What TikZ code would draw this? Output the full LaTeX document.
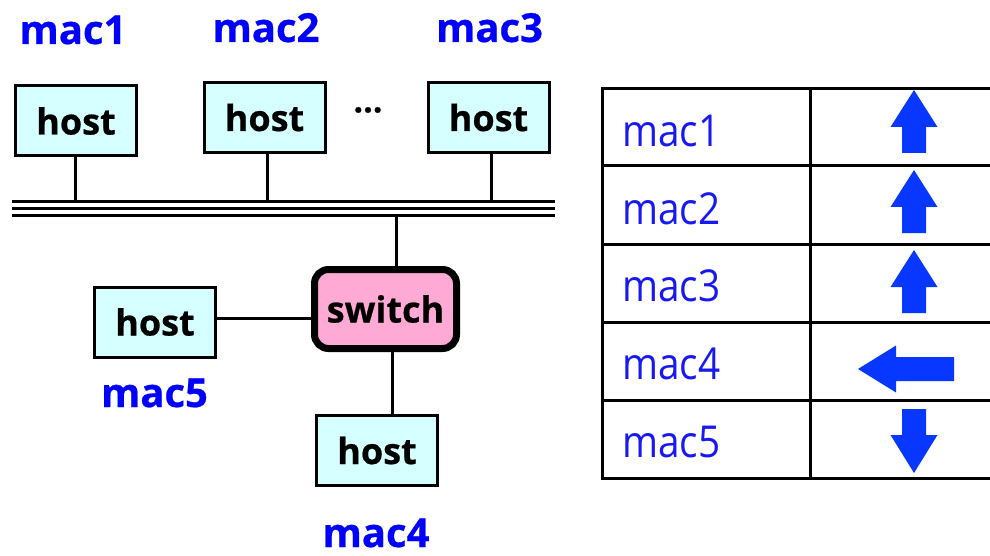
\documentclass[tikz,border=0pt]{standalone}
\usepackage{fontspec}
\setmainfont{Open Sans}[BoldFeatures={FakeBold=0.6}]
\newfontfamily\tblfont{Open Sans}[FakeStretch=0.88]
\definecolor{hostfill}{RGB}{214,255,255}
\definecolor{switchfill}{RGB}{255,170,212}
\definecolor{labelblue}{RGB}{0,0,255}
\definecolor{tblblue}{RGB}{24,24,240}
\definecolor{arrowblue}{RGB}{8,56,255}
\tikzset{
  hostbox/.style={draw=black, line width=3pt, fill=hostfill,
    minimum width=121pt, minimum height=70pt, inner sep=0pt,
    font=\fontsize{36}{40}\selectfont\bfseries},
  switchbox/.style={draw=black, line width=7pt, fill=switchfill,
    rounded corners=14pt, minimum width=142pt, minimum height=79pt,
    inner sep=0pt, font=\fontsize{36}{40}\selectfont\bfseries},
  maclabel/.style={anchor=base, text=labelblue, inner sep=0pt,
    font=\fontsize{40}{46}\selectfont\bfseries},
  tbltext/.style={anchor=base west, text=tblblue, inner sep=0pt,
    font=\fontsize{44}{50}\selectfont\tblfont},
  wire/.style={line width=3pt},
  grid/.style={line width=3pt},
  arr/.style={fill=arrowblue}
}
\begin{document}
\begin{tikzpicture}[x=1pt, y=-1pt]
\useasboundingbox (0,0) rectangle (990,556);
\clip (0,0) rectangle (990,556);

% hosts on the shared segment
\node[hostbox] (h1) at (76,121) {host};
\node[hostbox] (h2) at (264.5,117.5) {host};
\node[hostbox] (h3) at (488.5,117.5) {host};
\node[inner sep=0pt, font=\fontsize{34}{36}\selectfont\bfseries] (dots) at (368,110) {...};

\node[maclabel] (m1) at (73,44) {mac1};
\node[maclabel] (m2) at (266,42) {mac2};
\node[maclabel] (m3) at (489.5,42) {mac3};

% the bus: three parallel lines
\coordinate (busL) at (12,202);
\coordinate (busR) at (555,202);
\coordinate (busB) at (12,215);
\draw[wire] (busL) -- (busR);
\draw[wire] ([yshift=-7pt]busL) -- ([yshift=-7pt]busR);
\draw[wire] (busB) -- (busB -| busR);

\draw[wire] ([xshift=-1pt]h1.south) -- ([xshift=-1pt]h1.south |- busL);
\draw[wire] ([xshift=2.5pt]h2.south) -- ([xshift=2.5pt]h2.south |- busL);
\draw[wire] ([xshift=2.5pt]h3.south) -- ([xshift=2.5pt]h3.south |- busL);

% switch and its directly attached hosts
\node[switchbox] (sw) at (385.5,309) {switch};
\node[hostbox] (h5) at (155,322) {host};
\node[hostbox] (h4) at (377,450.5) {host};
\node[maclabel] (m5) at (154.5,407) {mac5};
\node[maclabel] (m4) at (376,547) {mac4};

\draw[wire] ([xshift=10.5pt]sw.north) -- ([xshift=10.5pt]sw.north |- busB);
\draw[wire] ([yshift=4pt]h5.east) -- ([yshift=4pt]h5.east -| sw.west);
\draw[wire] ([xshift=6.5pt]sw.south) -- ([xshift=6.5pt]sw.south |- h4.north);

% forwarding table
\foreach \y in {89,166,244,322,400,478} {
  \draw[grid] (601,\y) -- (995,\y);
}
\draw[grid] (602,87.5) -- (602,479.5);
\draw[grid] (810,87.5) -- (810,479.5);

\node[tbltext] (t1) at (622,147) {mac1};
\node[tbltext] (t2) at (622,224) {mac2};
\node[tbltext] (t3) at (622,301) {mac3};
\node[tbltext] (t4) at (622,379) {mac4};
\node[tbltext] (t5) at (622,457) {mac5};

% port direction arrows
\foreach \ty in {90,170,250} {
  \fill[arr, shift={(914,\ty)}] (0,0) -- (23.5,37) -- (12,37) -- (12,63)
    -- (-12,63) -- (-12,37) -- (-23.5,37) -- cycle;
}
\fill[arr, shift={(858,369)}] (0,0) -- (38,-23.5) -- (38,-12) -- (96,-12)
  -- (96,12) -- (38,12) -- (38,23.5) -- cycle;
\fill[arr, shift={(914,473)}] (0,0) -- (23.5,-38) -- (12,-38) -- (12,-64)
  -- (-12,-64) -- (-12,-38) -- (-23.5,-38) -- cycle;
\end{tikzpicture}
\end{document}
